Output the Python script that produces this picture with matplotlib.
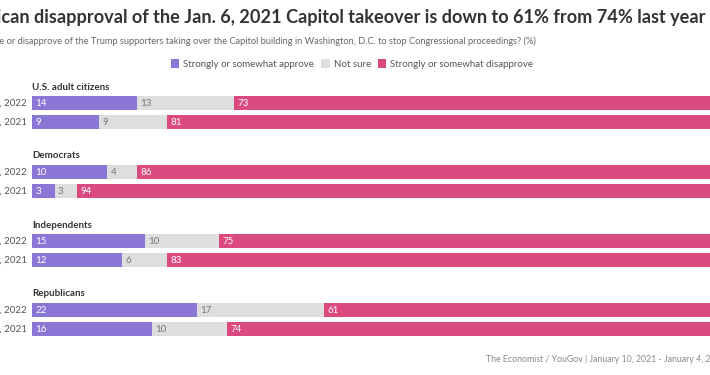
import matplotlib.pyplot as plt
from matplotlib.patches import Patch

# data
groups = ['U.S. adult citizens', 'Democrats', 'Independents', 'Republicans']
periods = ['Jan. 1 - 4, 2022', 'Jan. 10 - 12, 2021']
approve = [[14, 9], [10, 3], [15, 12], [22, 16]]
not_sure = [[13, 9], [4, 3], [10, 6], [17, 10]]
disapprove = [[73, 81], [86, 94], [75, 83], [61, 74]]
series_names = ['Strongly or somewhat approve', 'Not sure', 'Strongly or somewhat disapprove']

c_approve = '#8a76d4'
c_unsure = '#dedede'
c_disapprove = '#da4a7e'
colors = [c_approve, c_unsure, c_disapprove]

plt.rcParams['font.family'] = ['Lato', 'DejaVu Sans']

W, H = 710, 375
fig = plt.figure(figsize=(W / 100, H / 100), dpi=100)

# axes run off the right edge of the picture, like the cropped original
ax = fig.add_axes([32 / W, 0, 750 / W, 1])
ax.set_xlim(0, 100)
ax.set_ylim(H, 0)
ax.axis('off')

first_row = 103
group_gap = 69
row_gap = 19
bar_h = 14.5

for g, name in enumerate(groups):
    y0 = first_row + g * group_gap
    ax.text(0, y0 - 16, name, fontsize=7, fontweight='bold', color='#333333',
            va='center', ha='left')
    for r, period in enumerate(periods):
        y = y0 + r * row_gap
        vals = [approve[g][r], not_sure[g][r], disapprove[g][r]]
        left = 0
        for k, v in enumerate(vals):
            ax.barh(y, v, left=left, height=bar_h, color=colors[k], linewidth=0)
            tc = '#777777' if k == 1 else 'white'
            ax.text(left + 0.45, y + 0.5, str(v), fontsize=7, color=tc,
                    va='center', ha='left')
            left += v
        ax.text(-0.65, y + 0.5, period, fontsize=7, color='#555555',
                va='center', ha='right')

fig.text(706 / W, 1 - 17 / H,
         'Republican disapproval of the Jan. 6, 2021 Capitol takeover is down to 61% from 74% last year',
         fontsize=13.05, fontweight='bold', color='#333333', ha='right', va='center')
fig.text(536 / W, 1 - 41 / H,
         'Do you approve or disapprove of the Trump supporters taking over the Capitol building '
         'in Washington, D.C. to stop Congressional proceedings? (%)',
         fontsize=6.7, color='#666666', ha='right', va='center')

handles = [Patch(facecolor=c, edgecolor='none') for c in colors]
fig.legend(handles, series_names, loc='center', bbox_to_anchor=(352 / W, 1 - 64 / H),
           ncol=3, frameon=False, fontsize=7, handlelength=0.9, handleheight=1.0,
           handletextpad=0.4, columnspacing=0.7, labelcolor='#555555')

fig.text(486 / W, 1 - 360 / H,
         'The Economist / YouGov | January 10, 2021 - January 4, 2022',
         fontsize=6.3, color='#888888', ha='left', va='center')

fig.savefig('out.png', dpi=100)
